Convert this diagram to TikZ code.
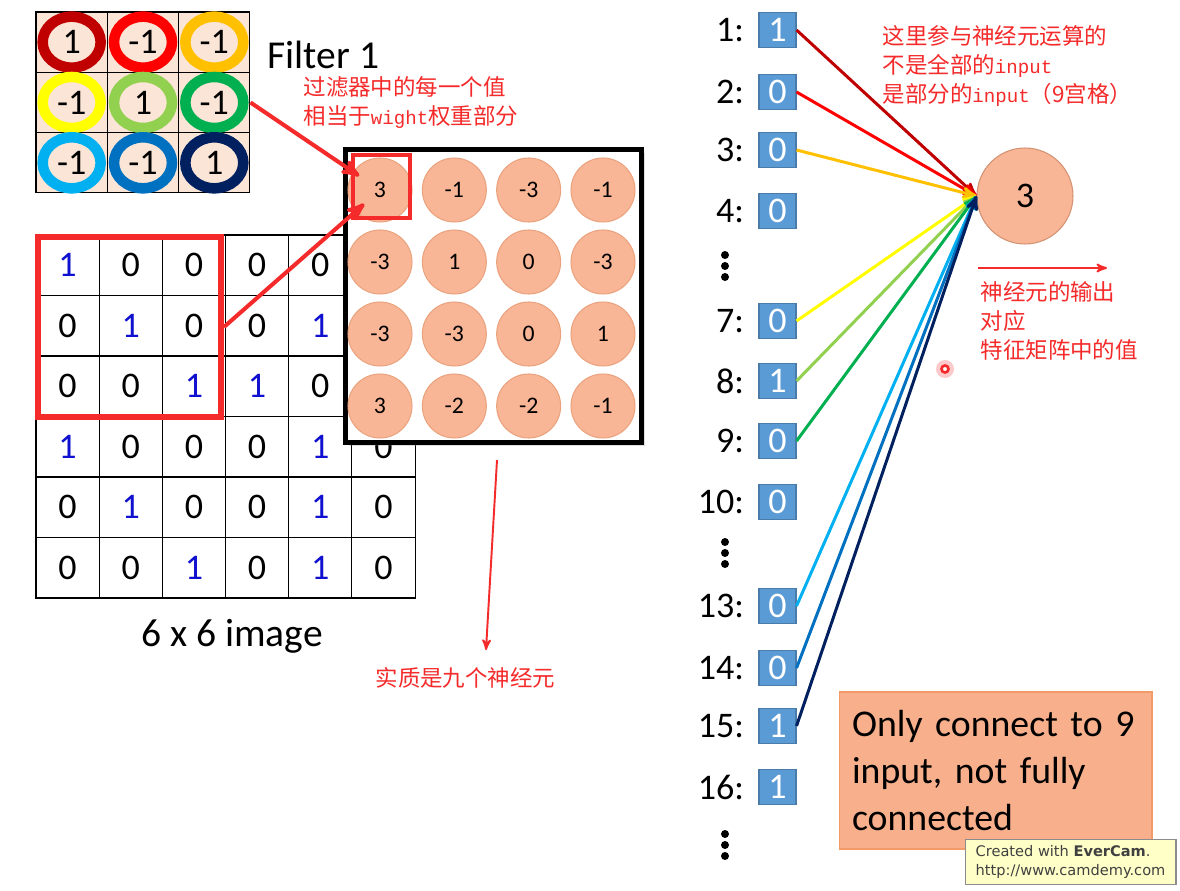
\documentclass[tikz,border=0pt]{standalone}
\usepackage{fontspec}
\setmainfont{Carlito}
\newfontfamily\cjk{Noto Sans CJK SC}
\newfontfamily\latmono[Scale=0.85]{Liberation Mono}
\newfontfamily\capfont{DejaVu Sans}
\usetikzlibrary{arrows,positioning,calc,shadows}

\newcommand\numsize{\fontsize{20.5}{24}\selectfont}

\definecolor{ring1}{HTML}{C00000}
\definecolor{ring2}{HTML}{FF0000}
\definecolor{ring3}{HTML}{FFC000}
\definecolor{ring4}{HTML}{FFFF00}
\definecolor{ring5}{HTML}{92D050}
\definecolor{ring6}{HTML}{00B050}
\definecolor{ring7}{HTML}{00B0F0}
\definecolor{ring8}{HTML}{0070C0}
\definecolor{ring9}{HTML}{002060}
\definecolor{peach}{HTML}{FBE5D6}
\definecolor{salmon}{HTML}{F8B696}
\definecolor{salmonline}{HTML}{EBA37F}
\definecolor{boxblue}{HTML}{5B9BD5}
\definecolor{notefill}{HTML}{F8B08C}
\definecolor{noteline}{HTML}{F29A68}
\definecolor{redmark}{HTML}{F52A2A}
\definecolor{pixblue}{HTML}{1010D0}
\definecolor{stampfill}{HTML}{FFFFC8}

\begin{document}
\begin{tikzpicture}[
        x=0.02cm, y=-0.02cm,
        >=stealth', semithick
    ]

    \tikzstyle{fcell} = [rectangle,draw,fill=peach,minimum width=1.426cm,minimum height=1.206cm,inner sep=0,font=\numsize]
    \tikzstyle{ring} = [line width=6pt]
    \tikzstyle{pix0} = [rectangle,draw,minimum width=1.264cm,minimum height=1.21cm,inner sep=0,font=\numsize]
    \tikzstyle{pix1} = [pix0,text=pixblue]
    \tikzstyle{pix-} = [pix0]
    \tikzstyle{fmap} = [circle,draw=salmonline,fill=salmon,minimum size=1.28cm,inner sep=0,font=\fontsize{13.5}{16}\selectfont]
    \tikzstyle{inbox} = [rectangle,draw=boxblue!80!black,fill=boxblue,text=white,minimum width=0.74cm,minimum height=0.7cm,inner sep=0,font=\numsize]
    \tikzstyle{idx} = [inner sep=0,font=\numsize]
    \tikzstyle{redline} = [->,draw=redmark,line width=2.3pt]
    \tikzstyle{thinred} = [->,draw=redmark,line width=1.1pt]
    \tikzstyle{note} = [text=redmark,font=\cjk\fontsize{12.8}{16.5}\selectfont,align=left,inner sep=0,anchor=west]
    \tikzstyle{link} = [->,line width=1.7pt]

    \fill[white] (0,0) rectangle (1180,891);
    \useasboundingbox (0,0) rectangle (1180,891);

    % filter
    \foreach \row [count=\r] in {{1,-1,-1},{-1,1,-1},{-1,-1,1}}
        \foreach \v [count=\c] in \row
            \node[fcell] (f\r\c) at ({36+71.33*(\c-0.5)},{12+60.33*(\r-0.5)}) {\v};
    \foreach \r/\c/\col in {1/1/ring1,1/2/ring2,1/3/ring3,2/1/ring4,2/2/ring5,2/3/ring6,3/1/ring7,3/2/ring8,3/3/ring9}
        \draw[ring,draw=\col] (f\r\c.center) ellipse [x radius=29, y radius=25.5];
    \node[idx,anchor=west,font=\fontsize{22.5}{26}\selectfont] (ftitle) at (267,55) {Filter 1};

    % image (cells under the feature map are left blank)
    \foreach \row [count=\r] in {{1,0,0,0,0,-},{0,1,0,0,1,-},{0,0,1,1,0,-},{1,0,0,0,1,0},{0,1,0,0,1,0},{0,0,1,0,1,0}}
        \foreach \v [count=\c] in \row
            \node[pix\v] (m\r\c) at ({36+63.17*(\c-0.5)},{235+60.5*(\r-0.5)}) {\if-\v\else\v\fi};
    \node[draw=redmark,line width=3.4pt,minimum width=3.66cm,minimum height=3.6cm] (win) at (129.5,327) {};
    \node[idx,font=\fontsize{22.5}{26}\selectfont] (imgtitle) at (232,636) {6 x 6 image};

    % feature map
    \node[draw,line width=2.8pt,fill=white,minimum width=5.92cm,minimum height=5.86cm,
          drop shadow={opacity=0.25,shadow xshift=2pt,shadow yshift=-2pt}] (fmapbox) at (493.5,296) {};
    \foreach \row [count=\r] in {{3,-1,-3,-1},{-3,1,0,-3},{-3,-3,0,1},{3,-2,-2,-1}}
        \foreach \v [count=\c] in \row
            \node[fmap] (c\r\c) at ({380+74.33*(\c-1)},{190+72*(\r-1)}) {\v};
    \node[draw=redmark,line width=2.3pt,minimum width=1.14cm,minimum height=1.26cm] (sel) at (381.5,186.5) {};

    \draw[redline,shorten >=0.5cm] (f23.east) -- (c11.center);
    \draw[redline,shorten >=0.42cm] (win.east) -- (c11.center);

    \coordinate (dn1) at (497,460);
    \coordinate (dn2) at (486,650);
    \draw[thinred] (dn1) -- (dn2);

    \node[note] (weightnote) at (303,102.5) {过滤器中的每一个值\\相当于{\latmono wight}权重部分};
    \node[note] (neuronsnote) at (375,678) {实质是九个神经元};

    % inputs
    \foreach \i/\v/\y in {1/1/30,2/0/92,3/0/150,4/0/211,7/0/321,8/1/381,9/0/441,10/0/502,13/0/606,14/0/668,15/1/726,16/1/787} {
        \node[inbox] (in\i) at (777.5,\y) {\v};
        \node[idx,left=0.28cm of in\i] (lab\i) {\i:};
    }
    \foreach \y [count=\k] in {266,553,845} {
        \coordinate (gap\k) at (725,\y);
        \foreach \d in {-11,0,11}
            \fill ($(gap\k)+(0,\d)$) circle [radius=4];
    }

    \node[circle,draw=salmonline!90!black,fill=salmon,minimum size=1.92cm,font=\numsize] (out) at (1025,196) {3};

    \foreach \i/\col in {1/ring1,2/ring2,3/ring3,7/ring4,8/ring5,9/ring6,13/ring7,14/ring8,15/ring9}
        \draw[link,draw=\col] (in\i.east) -- (out.west);

    \node[note] (partnote) at (882,66) {这里参与神经元运算的\\不是全部的{\latmono input}\\是部分的{\latmono input}（9宫格）};

    \coordinate (o1) at (978,268);
    \coordinate (o2) at (1107,268);
    \draw[thinred] (o1) -- (o2);
    \node[note] (outnote) at (980,321) {神经元的输出\\对应\\特征矩阵中的值};

    \coordinate (cursor) at (945,369);
    \fill[redmark!25] (cursor) circle [radius=9];
    \draw[redmark,line width=1.5pt,fill=white] (cursor) circle [radius=3.5];

    \node[draw=noteline,fill=notefill,text width=5.74cm,inner sep=0.26cm,minimum height=3.14cm,
          align=left,font=\fontsize{21.5}{27}\selectfont] (fullnote) at (995.5,770.5)
          {Only connect to 9\\input, not fully\\connected};

    \node[draw=black!45,fill=stampfill,minimum width=4.22cm,minimum height=0.84cm,align=left,
          text=black!75,font=\capfont\fontsize{8.3}{11}\selectfont] (stamp) at (1070.5,862)
          {Created with \textbf{EverCam}.\\http://www.camdemy.com};

\end{tikzpicture}
\end{document}
